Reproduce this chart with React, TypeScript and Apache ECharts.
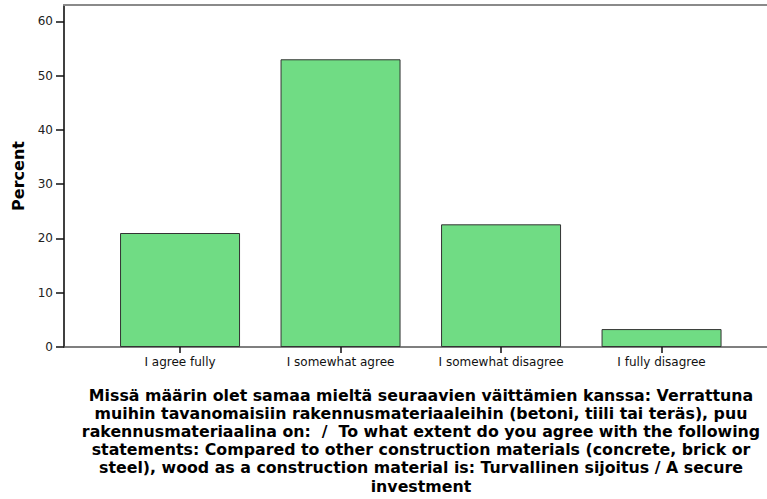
import React, { useEffect, useRef } from "react";
import * as echarts from "echarts";

const categories = ["I agree fully", "I somewhat agree", "I somewhat disagree", "I fully disagree"];
const percentValues = [21.0, 53.0, 22.6, 3.3];
const yTicks = [0, 10, 20, 30, 40, 50, 60];
const titleLines = [
  "Missä määrin olet samaa mieltä seuraavien väittämien kanssa: Verrattuna",
  "muihin tavanomaisiin rakennusmateriaaleihin (betoni, tiili tai teräs), puu",
  "rakennusmateriaalina on:  /  To what extent do you agree with the following",
  "statements: Compared to other construction materials (concrete, brick or",
  "steel), wood as a construction material is: Turvallinen sijoitus / A secure",
  "investment",
];

const FONT = "'DejaVu Sans', Arial, sans-serif";

export default function App() {
  const ref = useRef<HTMLDivElement>(null);
  useEffect(() => {
    if (!ref.current) return;
    const chart = echarts.init(ref.current, null, { renderer: "svg" });
    const xMin = 0.277;
    const xMax = 4.657;
    const positions = categories.map((_, i) => i + 1);
    chart.setOption({
      animation: false,
      backgroundColor: "#ffffff",
      textStyle: { fontFamily: FONT },
      grid: { left: 64, right: 0, top: 5, bottom: 152, containLabel: false },
      xAxis: [
        {
          type: "value",
          min: xMin,
          max: xMax,
          axisLine: { show: true, lineStyle: { color: "#555555", width: 1.5 } },
          axisTick: {
            show: true,
            customValues: positions,
            length: 6,
            lineStyle: { color: "#111111", width: 1.5 },
          },
          axisLabel: {
            show: true,
            customValues: positions,
            margin: 9,
            fontSize: 12,
            color: "#111111",
            fontFamily: FONT,
            formatter: (v: number) => categories[Math.round(v) - 1] ?? "",
          },
          splitLine: { show: false },
        },
        {
          type: "value",
          position: "top",
          min: xMin,
          max: xMax,
          axisLine: { show: true, lineStyle: { color: "#8a8a8a", width: 2 } },
          axisTick: { show: false },
          axisLabel: { show: false },
          splitLine: { show: false },
        },
      ],
      yAxis: {
        type: "value",
        min: 0,
        max: 63,
        name: "Percent",
        nameLocation: "middle",
        nameGap: 37,
        nameRotate: 90,
        nameTextStyle: { fontSize: 16, fontWeight: "bold", color: "#000000", fontFamily: FONT },
        axisLine: { show: true, lineStyle: { color: "#000000", width: 1.5 } },
        axisTick: { show: true, customValues: yTicks, length: 8, lineStyle: { color: "#111111", width: 1.5 } },
        axisLabel: { show: true, customValues: yTicks, margin: 11, fontSize: 12, color: "#222222", fontFamily: FONT },
        splitLine: { show: false },
      },
      series: [
        {
          type: "bar",
          xAxisIndex: 0,
          barWidth: 120,
          data: percentValues.map((v, i) => [positions[i], v]),
          itemStyle: { color: "#70dc84", borderColor: "#333333", borderWidth: 1 },
        },
      ],
      graphic: [
        {
          type: "text",
          x: 421,
          y: 386,
          style: {
            text: titleLines.join("\n"),
            align: "center",
            verticalAlign: "top",
            fontSize: 15.8,
            fontWeight: "bold",
            lineHeight: 18.2,
            fill: "#000000",
            fontFamily: FONT,
          },
        },
      ],
    });
    return () => chart.dispose();
  }, []);
  return (
    <div
      ref={ref}
      style={{ position: "fixed", left: 0, top: 0, width: 767, height: 499, background: "#fff" }}
    />
  );
}
